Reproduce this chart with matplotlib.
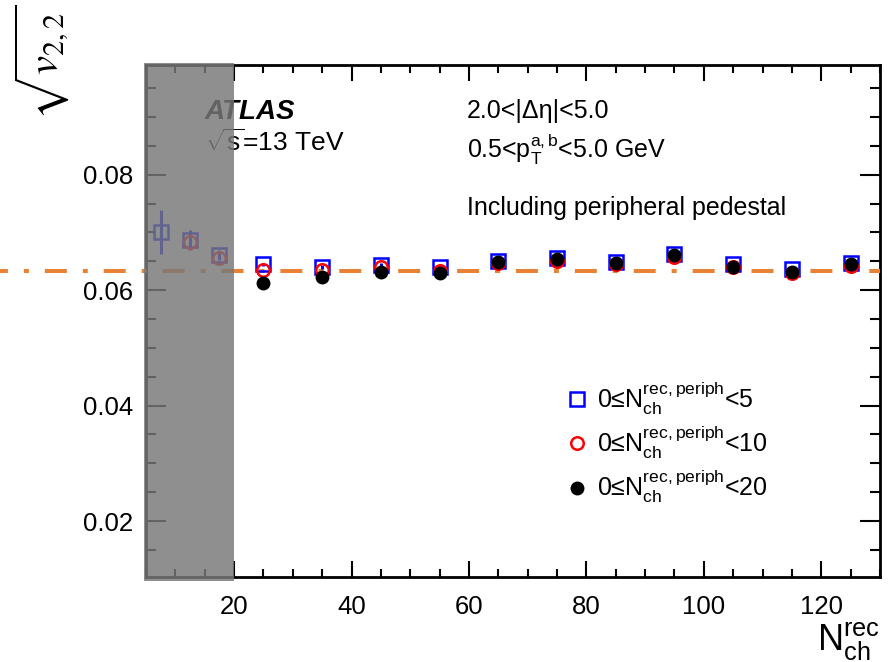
import matplotlib
matplotlib.use("Agg")
import matplotlib.pyplot as plt
import matplotlib.transforms as mtransforms
from matplotlib.patches import Rectangle
from matplotlib.ticker import MultipleLocator, FormatStrFormatter

plt.rcParams['font.family'] = ['Liberation Sans', 'DejaVu Sans']
plt.rcParams['mathtext.fontset'] = 'custom'
plt.rcParams['mathtext.rm'] = 'Liberation Sans'
plt.rcParams['mathtext.it'] = 'Liberation Sans:italic'
plt.rcParams['mathtext.bf'] = 'Liberation Sans:bold'
plt.rcParams['lines.scale_dashes'] = False

# ---- data ----
x_blue = [7.5, 12.5, 17.5, 25, 35, 45, 55, 65, 75, 85, 95, 105, 115, 125]
v_blue = [0.0700, 0.0687, 0.0661, 0.06446, 0.06404, 0.06434, 0.06394, 0.06503,
          0.06550, 0.06491, 0.06625, 0.06446, 0.06359, 0.06463]
e_blue = [0.0038, 0.0017, 0.0008, 0.0003, 0.0003, 0.0003, 0.0003, 0.0003,
          0.0003, 0.0003, 0.0003, 0.0003, 0.0003, 0.0003]

x_red = [12.5, 17.5, 25, 35, 45, 55, 65, 75, 85, 95, 105, 115, 125]
v_red = [0.0683, 0.0655, 0.06347, 0.06347, 0.06394, 0.06335, 0.06463, 0.06508,
         0.06451, 0.06578, 0.06394, 0.06300, 0.06422]

x_black = [25, 35, 45, 55, 65, 75, 85, 95, 105, 115, 125]
v_black = [0.06116, 0.06231, 0.06307, 0.06290, 0.06481, 0.06533, 0.06474,
           0.06607, 0.06394, 0.06318, 0.06451]

ref_level = 0.0633
ref_x = [-19.8, 130]
excluded_range = [5, 20]

labels = ['0≤$\\mathrm{N}_{\\mathrm{ch}}^{\\mathrm{rec,periph}}$<5',
          '0≤$\\mathrm{N}_{\\mathrm{ch}}^{\\mathrm{rec,periph}}$<10',
          '0≤$\\mathrm{N}_{\\mathrm{ch}}^{\\mathrm{rec,periph}}$<20']

# ---- figure ----
fig = plt.figure(figsize=(8.9, 6.62), dpi=100)
ax = fig.add_axes([146/890, 85/662, 734/890, 512/662])
ax.set_xlim(5, 130)
ax.set_ylim(0.0103, 0.0990)

# reference line (extends to the left of the frame)
ax.plot(ref_x, [ref_level, ref_level], color='#ea8236', lw=2.9,
        linestyle=(10.1, (15.8, 11.5, 3.6, 11.5)), solid_capstyle='butt',
        dash_capstyle='butt', clip_on=False, zorder=3)

ax.errorbar(x_blue, v_blue, yerr=e_blue, fmt='none', ecolor='#0000ff',
            elinewidth=2.2, capsize=0, zorder=4)
h_blue, = ax.plot(x_blue, v_blue, 's', ms=10, mfc='none', mec='#0000ff', mew=1.8,
                  zorder=4, label=labels[0])
h_red, = ax.plot(x_red, v_red, 'o', ms=9, mfc='none', mec='#ff0000', mew=1.8,
                 zorder=5, label=labels[1])
h_black, = ax.plot(x_black, v_black, 'o', ms=10, mfc='black', mec='black', mew=0,
                   zorder=6, label=labels[2])

# ticks
ax.xaxis.set_major_locator(MultipleLocator(20))
ax.xaxis.set_minor_locator(MultipleLocator(5))
ax.yaxis.set_major_locator(MultipleLocator(0.02))
ax.yaxis.set_minor_locator(MultipleLocator(0.005))
ax.yaxis.set_major_formatter(FormatStrFormatter('%.2f'))
ax.tick_params(which='both', direction='in', top=True, right=True, width=1.5,
               labelsize=18.5)
ax.tick_params(axis='x', which='major', length=11.5, pad=13)
ax.tick_params(axis='x', which='minor', length=5.8)
ax.tick_params(axis='y', which='major', length=14.4, pad=9)
ax.tick_params(axis='y', which='minor', length=7.2)
for s in ax.spines.values():
    s.set_linewidth(2.0)

# texts
ax.text(205/890, 1-119/662, 'ATLAS', transform=fig.transFigure, fontsize=20,
        fontweight='bold', fontstyle='italic', va='baseline', ha='left', zorder=5)
ax.text(205/890, 1-151/662, r'$\sqrt{\mathrm{s}}$=13 TeV', transform=fig.transFigure,
        fontsize=19, va='baseline', ha='left', zorder=5)
ax.text(467/890, 1-118/662, '2.0<|Δη|<5.0', transform=fig.transFigure,
        fontsize=18, va='baseline', ha='left', zorder=5)
ax.text(467/890, 1-158/662, r'0.5<$\mathrm{p}_{\mathrm{T}}^{\mathrm{a,b}}$<5.0 GeV',
        transform=fig.transFigure, fontsize=18, va='baseline', ha='left', zorder=5)
ax.text(467/890, 1-215/662, 'Including peripheral pedestal', transform=fig.transFigure,
        fontsize=18, va='baseline', ha='left', zorder=5)

# excluded region
trans = mtransforms.blended_transform_factory(ax.transData, ax.transAxes)
rect = Rectangle((excluded_range[0] - 0.35, -0.008),
                 excluded_range[1] - excluded_range[0] + 0.35, 1.012,
                 transform=trans, facecolor=(0.47, 0.47, 0.47), alpha=0.83,
                 edgecolor='none', clip_on=False, zorder=20)
ax.add_patch(rect)

# legend
leg = ax.legend(handles=[h_blue, h_red, h_black], loc='upper left',
                bbox_to_anchor=(0.56, 0.405), frameon=False,
                fontsize=18, handlelength=0.8, handletextpad=0.4,
                labelspacing=0.28, borderaxespad=0)

# axis labels
fig.text(42/890, 1-4/662, r'$\sqrt{v_{2,2}}$', rotation=90, ha='center', va='top',
         fontsize=31, math_fontfamily='stix')
fig.text(880/890, 1-650/662, r'$\mathrm{N}_{\mathrm{ch}}^{\mathrm{rec}}$', ha='right',
         va='baseline', fontsize=26)

fig.savefig('out.png', dpi=100)
